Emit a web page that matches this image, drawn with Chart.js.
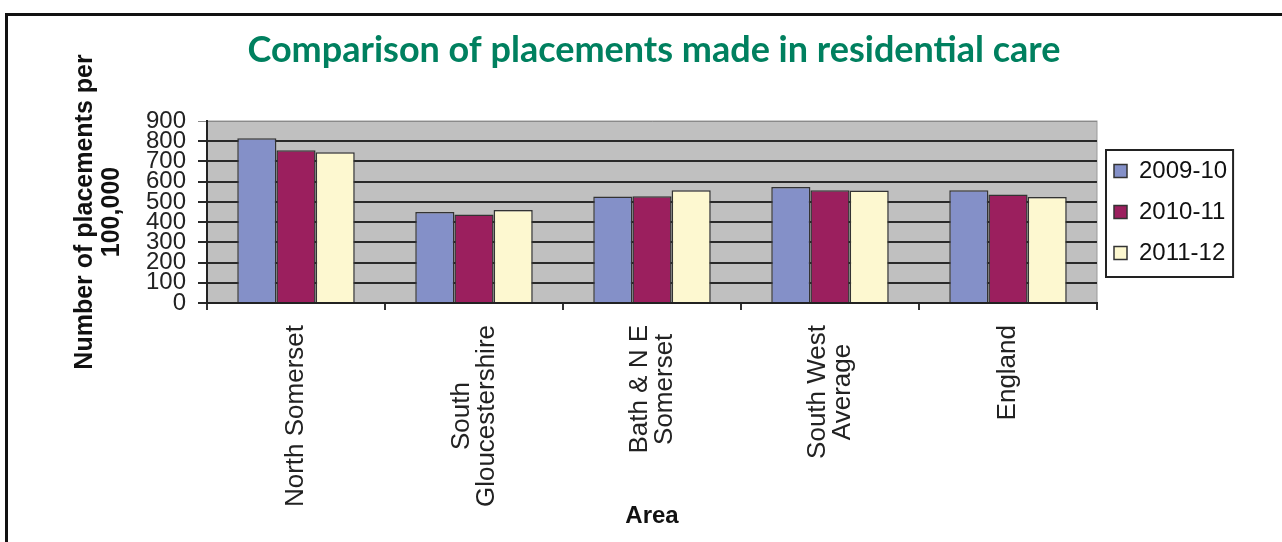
<!DOCTYPE html>
<html>
<head>
<meta charset="utf-8">
<script src="https://cdn.jsdelivr.net/npm/chart.js@4.4.1/dist/chart.umd.min.js"></script>
<style>
  html, body { margin: 0; padding: 0; background: #fff; }
  body { width: 1282px; height: 542px; position: relative; overflow: hidden; }
  #frame { position: absolute; left: 5px; top: 13px; right: -10px; bottom: -10px;
           border-top: 3px solid #111; border-left: 3px solid #111; }
  #wrap { position: absolute; left: 0; top: 0; width: 1282px; height: 542px; }
</style>
</head>
<body>
<div id="frame"></div>
<div id="wrap"><canvas id="barChart"></canvas></div>
<script>
var areas = [
  'North Somerset',
  ['South', 'Gloucestershire'],
  ['Bath & N E', 'Somerset'],
  ['South West', 'Average'],
  'England'
];
var years = ['2009-10', '2010-11', '2011-12'];
var values0910 = [815, 450, 527, 574, 557];
var values1011 = [755, 438, 528, 557, 536];
var values1112 = [745, 460, 557, 556, 524];
var barColors = ['#8490c8', '#9b1f5e', '#fdf8d0'];

// gray plot background + label tweaks
var plotBg = {
  id: 'plotBg',
  beforeDraw: function(chart) {
    var a = chart.chartArea, ctx = chart.ctx;
    ctx.save();
    ctx.fillStyle = '#c0c0c0';
    ctx.fillRect(a.left, a.top, a.right - a.left, a.bottom - a.top);
    ctx.strokeStyle = '#9a9a9a';
    ctx.lineWidth = 1;
    ctx.strokeRect(a.left, a.top, a.right - a.left, a.bottom - a.top);

    // center multi-line rotated labels on their tick, lines centred in the block
    var items = chart.scales.x.getLabelItems();
    if (!items._shifted) {
      items.forEach(function(it) {
        var o = it.options ? it.options : it;
        var lines = Array.isArray(it.label) ? it.label : [it.label];
        ctx.font = it.font.string;
        var w = 0;
        lines.forEach(function(l) { w = Math.max(w, ctx.measureText(l).width); });
        o.translation[0] -= (lines.length - 1) * it.font.lineHeight / 2;
        o.translation[1] += w / 2;
        o.textAlign = 'center';
      });
      items._shifted = true;
    }
    ctx.restore();
  }
};

// fixed legend width + border box
var legendBox = {
  id: 'legendBox',
  beforeLayout: function(chart) {
    var lg = chart.legend;
    if (lg && !lg._patched) {
      var f = lg.fit.bind(lg);
      lg.fit = function() { f(); this.width = 185; };
      lg._patched = true;
    }
  },
  afterDraw: function(chart) {
    var boxes = chart.legend.legendHitBoxes;
    if (!boxes || !boxes.length) return;
    var x0 = Infinity, y0 = Infinity, x1 = -Infinity, y1 = -Infinity;
    boxes.forEach(function(b) {
      x0 = Math.min(x0, b.left); y0 = Math.min(y0, b.top);
      x1 = Math.max(x1, b.left + b.width); y1 = Math.max(y1, b.top + b.height);
    });
    var ctx = chart.ctx;
    ctx.save();
    ctx.strokeStyle = '#222';
    ctx.lineWidth = 2;
    ctx.strokeRect(x0 - 8, y0 - 9, x1 - x0 + 14, y1 - y0 + 21);
    ctx.restore();
  }
};

var ctx = document.getElementById('barChart').getContext('2d');
new Chart(ctx, {
  type: 'bar',
  data: {
    labels: areas,
    datasets: [
      { label: years[0], data: values0910, backgroundColor: barColors[0] },
      { label: years[1], data: values1011, backgroundColor: barColors[1] },
      { label: years[2], data: values1112, backgroundColor: barColors[2] }
    ]
  },
  options: {
    responsive: true,
    maintainAspectRatio: false,
    animation: false,
    layout: { padding: { left: 26, right: 0, top: 0, bottom: 0 } },
    datasets: {
      bar: {
        borderColor: '#333',
        borderWidth: 1.5,
        categoryPercentage: 0.66,
        barPercentage: 1.0
      }
    },
    plugins: {
      title: {
        display: true,
        text: 'Comparison of placements made in residential care',
        color: '#00805f',
        font: { family: 'Lato', size: 36, weight: 'bold', lineHeight: 1.2 },
        padding: { top: 29, bottom: 48.8 }
      },
      legend: {
        position: 'right',
        fullSize: false,
        labels: {
          color: '#111',
          font: { family: 'Liberation Sans, Arial', size: 24 },
          boxWidth: 13,
          boxHeight: 13,
          padding: 17
        }
      },
      tooltip: { enabled: false }
    },
    scales: {
      x: {
        afterFit: function(s) { s.height = 239; },
        grid: { drawOnChartArea: false, drawTicks: true, tickLength: 7, color: '#333', lineWidth: 2 },
        border: { display: true, color: '#222', width: 2 },
        ticks: {
          autoSkip: false,
          maxRotation: 90,
          minRotation: 90,
          padding: 15,
          color: '#222',
          font: { family: 'Liberation Sans, Arial', size: 26, lineHeight: 0.97 }
        },
        title: {
          display: true,
          text: 'Area',
          color: '#111',
          font: { family: 'Liberation Sans, Arial', size: 24, weight: 'bold', lineHeight: 1.1 },
          padding: { top: 0, bottom: 12 }
        }
      },
      y: {
        min: 0,
        max: 900,
        afterFit: function(s) { s.width = 181; },
        grid: {
          color: function(c) { return c.tick && c.tick.value === 900 ? '#8a8a8a' : '#2a2a2a'; },
          lineWidth: function(c) { return c.tick && c.tick.value === 900 ? 1 : 2; },
          tickLength: 9
        },
        border: { display: true, color: '#222', width: 2 },
        ticks: {
          stepSize: 100,
          autoSkip: false,
          padding: 12,
          color: '#222',
          font: { family: 'Liberation Sans, Arial', size: 24 }
        },
        title: {
          display: true,
          text: ['Number of placements per', '100,000'],
          color: '#111',
          font: { family: 'Liberation Sans, Arial', size: 25, weight: 'bold', lineHeight: 1.1 },
          padding: { top: 45, bottom: 0 }
        }
      }
    }
  },
  plugins: [plotBg, legendBox]
});
</script>
</body>
</html>
